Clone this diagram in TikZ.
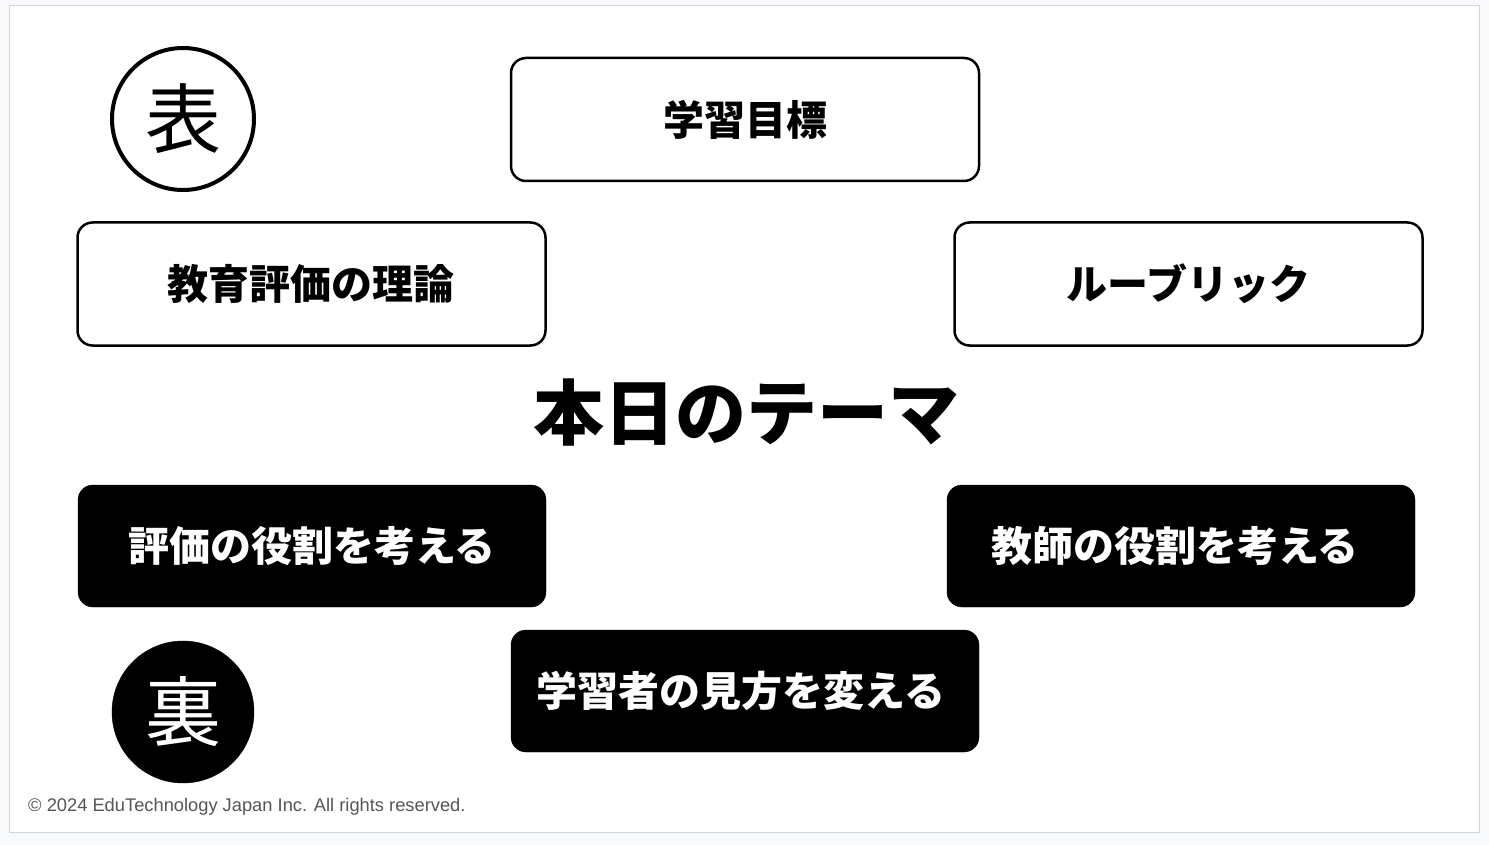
\documentclass[tikz,border=0pt]{standalone}
\usepackage{fontspec}
\newfontfamily\jp{Noto Sans CJK JP}
\newfontfamily\lat{Liberation Sans}
\definecolor{pagebg}{HTML}{F8F9FB}
\definecolor{cardline}{HTML}{D0D3DA}
\definecolor{copygray}{HTML}{555555}
\begin{document}
\begin{tikzpicture}[x=1pt,y=-1pt,
  outbox/.style={draw=black,line width=2.5pt,fill=white,rounded corners=15pt,minimum width=468pt,minimum height=123pt,inner sep=0pt,font=\jp\bfseries\fontsize{41}{44}\selectfont},
  inbox/.style={draw=black,fill=black,rounded corners=15pt,minimum width=468pt,minimum height=122pt,inner sep=0pt,text=white,font=\jp\bfseries\fontsize{41}{44}\selectfont}]
\useasboundingbox (0,0) rectangle (1489,845);
\fill[pagebg] (0,0) rectangle (1489,845);
\filldraw[fill=white,draw=cardline,line width=1pt] (9.5,5.5) rectangle (1479,832);
\node[circle,draw=black,line width=4pt,fill=white,minimum size=142pt,inner sep=0pt,font=\jp\fontsize{76}{80}\selectfont] (omote) at (183,119) {表};
\node[outbox] (goal) at (745,119.5) {学習目標};
\node[outbox] (theory) at (311.5,284) {教育評価の理論\rule{2pt}{0pt}};
\node[outbox] (rubric) at (1188.5,284) {ルーブリック};
\node[font=\jp\bfseries\fontsize{71}{76}\selectfont] (title) at (746,413) {本日のテーマ};
\node[inbox] (role1) at (312,546) {評価の役割を考える};
\node[inbox] (role2) at (1181,546) {教師の役割を考える\rule{12pt}{0pt}};
\node[inbox] (view) at (745,691) {学習者の見方を変える\rule{8pt}{0pt}};
\node[circle,draw=black,fill=black,minimum size=142pt,inner sep=0pt,text=white,font=\jp\fontsize{76}{80}\selectfont] (ura) at (183,712) {裏};
\node[anchor=west,text=copygray,font=\lat\fontsize{18.3}{21}\selectfont,inner sep=0pt] (copy) at (28,807) {© 2024 EduTechnology Japan Inc. All rights reserved.};
\end{tikzpicture}
\end{document}
